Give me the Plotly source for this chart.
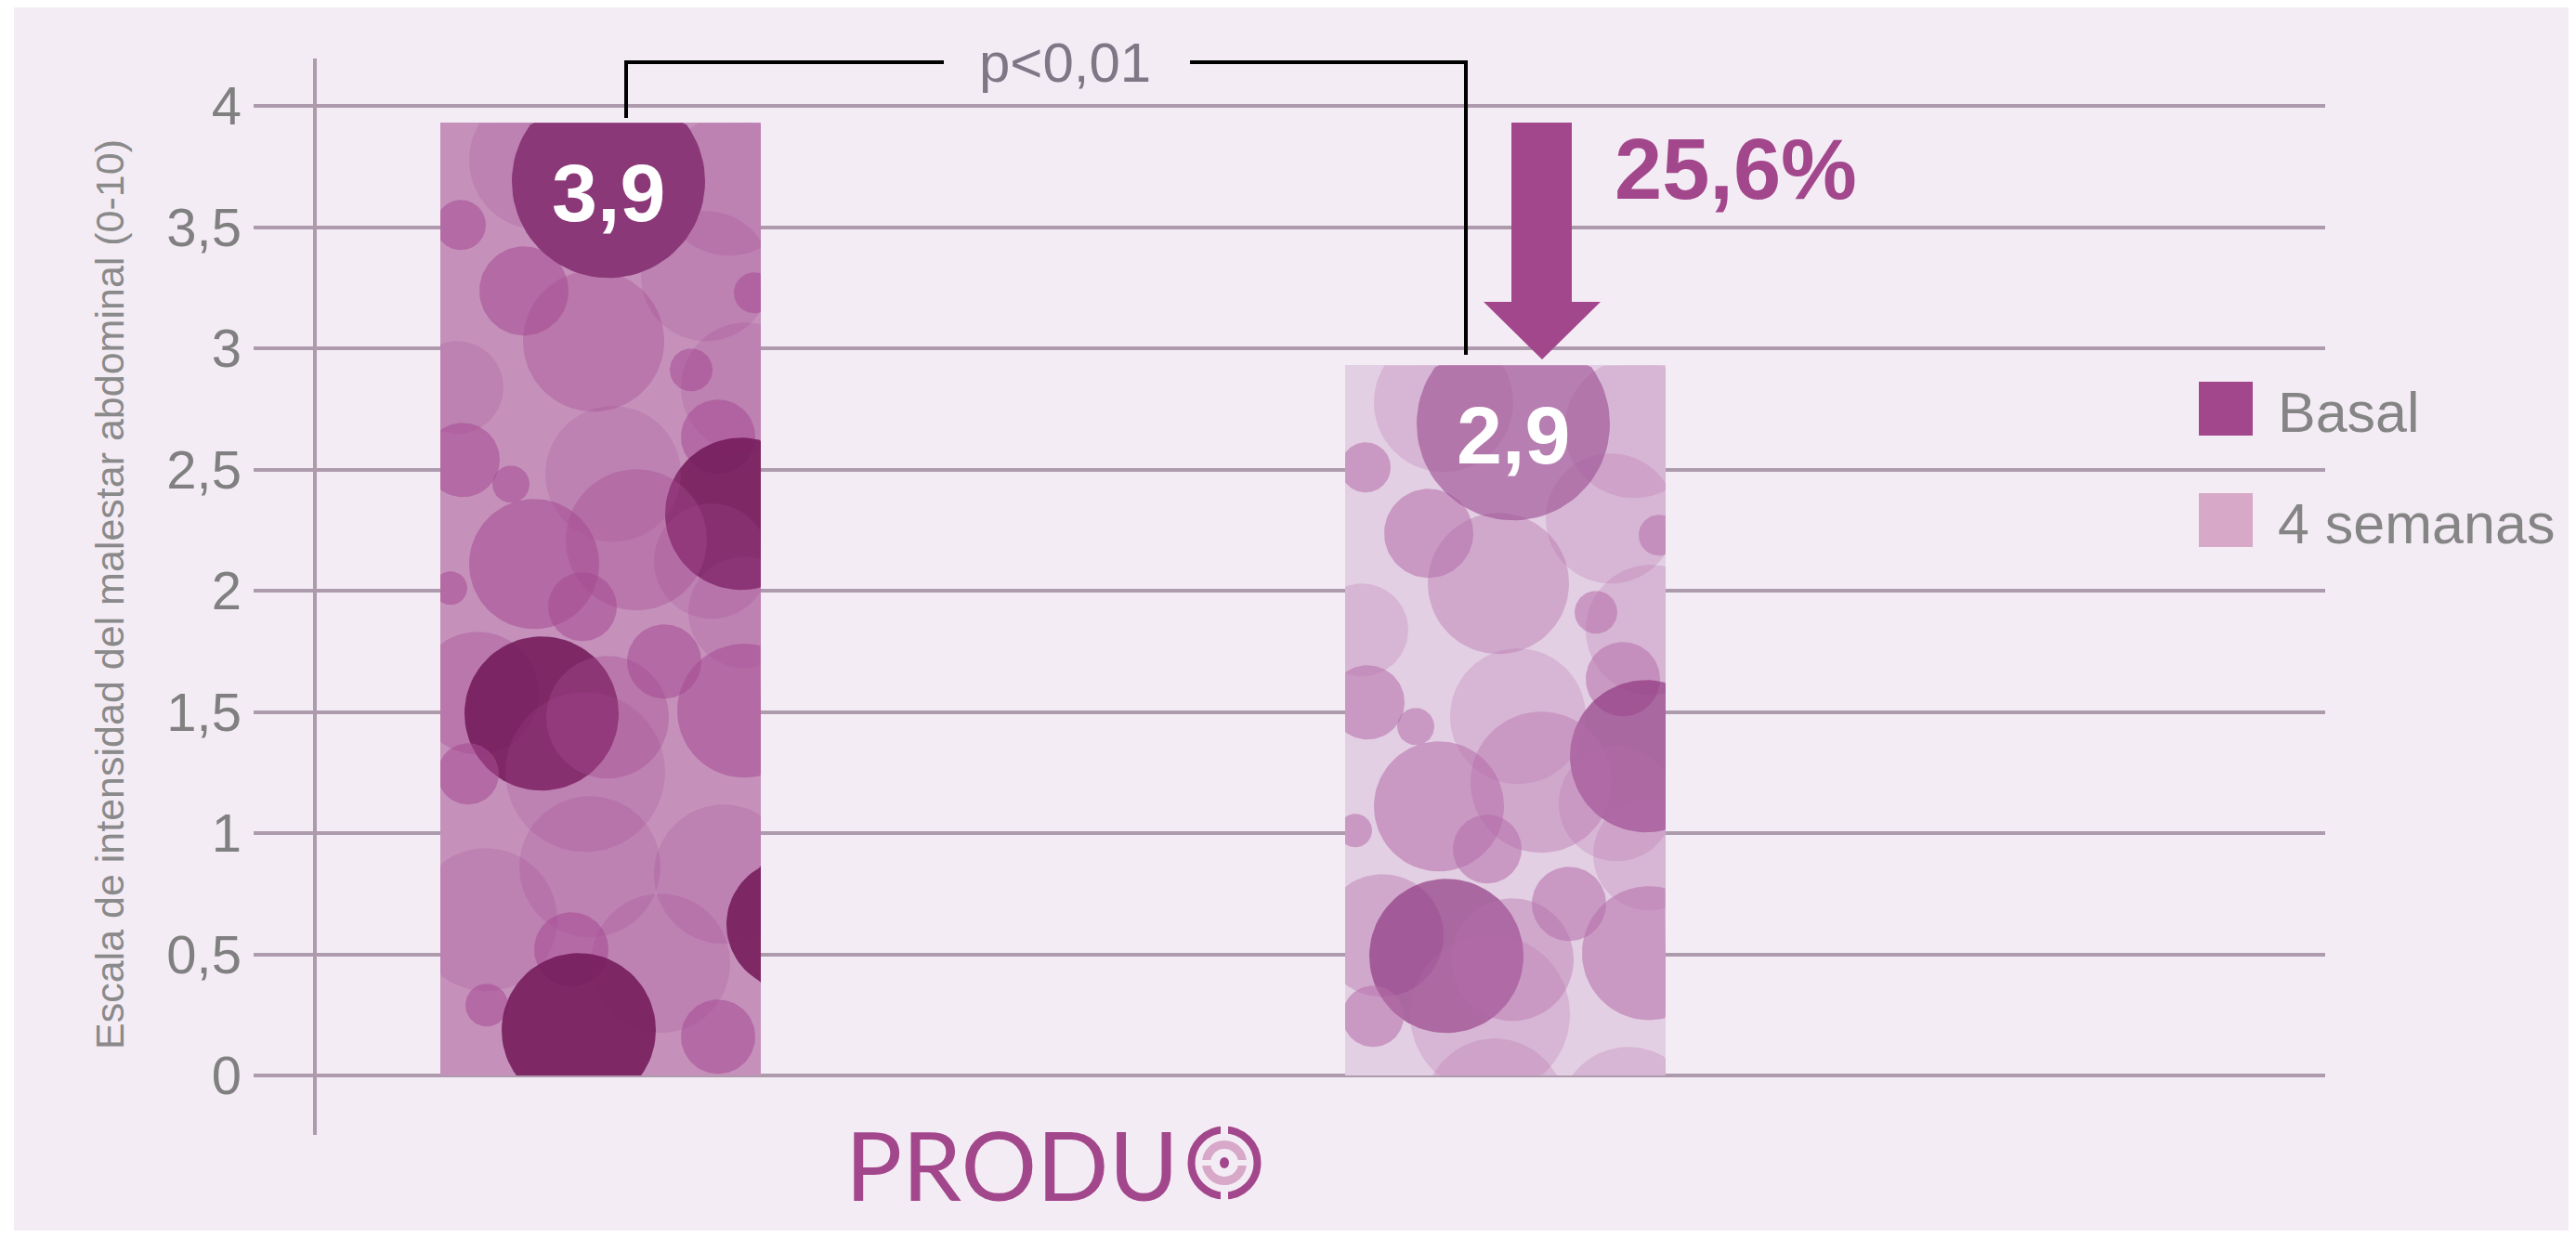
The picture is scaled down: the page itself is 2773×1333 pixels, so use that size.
import numpy as np
import plotly.graph_objects as go

# ---------------- data ----------------
categories = ["Basal", "4 semanas"]
values = [3.93, 2.93]
value_labels = ["3,9", "2,9"]
reduction_label = "25,6%"
p_label = "p<0,01"
y_title = "Escala de intensidad del malestar abdominal (0-10)"
tick_vals = [0, 0.5, 1, 1.5, 2, 2.5, 3, 3.5, 4]
tick_text = ["0", "0,5", "1", "1,5", "2", "2,5", "3", "3,5", "4"]
logo_text = "PRODU"

# ---------------- style / layout constants ----------------
W, H = 2765, 1317
OFF = 8                       # page offset of the figure (body margin)
ML, MR, MT, MB = 265, 270, 28, 89
PW, PH = W - ML - MR, H - MT - MB
PXU, PYU = 974.0, 261.0       # pixels per x unit / y unit
XC0 = 638.5                   # figure px of first category
Y0 = 1150.0                   # figure px of y = 0
XMIN = -(XC0 - ML) / PXU
XMAX = XMIN + PW / PXU
YMAX = (Y0 - MT) / PYU
YMIN = YMAX - PH / PYU
BARW = 345 / PXU

BG = "#F4ECF5"
GRID = "#AD9BAD"
PURPLE = "#A3478C"
LIGHT = "#D7A8C8"
FONT = "Liberation Sans, Arial, Helvetica, sans-serif"

schemes = [
    {"base": "#C591BB", "f": "rgba(165,75,145,0.22)", "h": "rgba(165,75,145,0.38)",
     "m": "rgba(165,75,145,0.55)", "d": "rgba(115,25,90,0.87)", "label": "#8A3878"},
    {"base": "#E3CFE3", "f": "rgba(180,110,170,0.26)", "h": "rgba(180,110,170,0.4)",
     "m": "rgba(180,110,170,0.55)", "d": "rgba(140,50,125,0.66)", "label": "rgba(160,85,150,0.66)"},
]

# decorative bubble texture: (offset from bar left px, offset from bar top px, radius px, tone)
texture = [
    (106, 40, 75, "f"), (311, 68, 75, "f"), (22, 110, 27, "m"), (90, 181, 48, "m"),
    (165, 235, 76, "h"), (286, 165, 70, "f"), (338, 183, 22, "m"), (270, 266, 23, "m"),
    (18, 285, 50, "f"), (329, 285, 70, "f"), (299, 338, 40, "m"), (324, 421, 82, "d"),
    (24, 363, 40, "m"), (76, 389, 20, "m"), (186, 378, 73, "f"), (211, 449, 76, "h"),
    (101, 475, 70, "m"), (292, 472, 62, "f"), (11, 501, 18, "m"), (153, 521, 37, "m"),
    (327, 527, 60, "f"), (241, 580, 40, "m"), (40, 614, 66, "h"), (109, 636, 83, "d"),
    (180, 640, 66, "h"), (327, 633, 72, "m"), (30, 701, 33, "m"), (156, 699, 86, "f"),
    (161, 801, 76, "f"), (49, 858, 77, "f"), (305, 809, 75, "f"), (141, 890, 40, "m"),
    (237, 905, 75, "f"), (378, 863, 70, "d"), (50, 950, 23, "m"), (149, 977, 83, "d"),
    (299, 984, 40, "m"),
]
LABEL_CIRCLE = (181, 63, 104)


def PX(page_x):
    return (page_x - OFF - ML) / PW


def PY(page_y):
    return 1 - (page_y - OFF - MT) / PH


xs = list(range(len(categories)))

fig = go.Figure()
fig.add_trace(go.Bar(
    x=xs, y=values, width=BARW,
    marker=dict(color=[s["base"] for s in schemes], line=dict(width=0)),
    hoverinfo="skip", showlegend=False,
))

t = np.linspace(0, 2 * np.pi, 91)


def bubble(xc, v, ox, oy, r, color):
    left, right = xc - BARW / 2, xc + BARW / 2
    if oy - r > v * PYU:
        return
    cx = left + ox / PXU
    cy = v - oy / PYU
    px = np.clip(cx + r * np.cos(t) / PXU, left, right)
    py = np.clip(cy + r * np.sin(t) / PYU, 0, v)
    fig.add_trace(go.Scatter(
        x=px, y=py, mode="lines", fill="toself", fillcolor=color,
        line=dict(width=0, color="rgba(0,0,0,0)"),
        hoverinfo="skip", showlegend=False,
    ))


for xc, v, sc in zip(xs, values, schemes):
    for ox, oy, r, tone in texture:
        bubble(xc, v, ox, oy, r, sc[tone])
    bubble(xc, v, LABEL_CIRCLE[0], LABEL_CIRCLE[1], LABEL_CIRCLE[2], sc["label"])

annotations = []
for xc, v, lab in zip(xs, values, value_labels):
    annotations.append(dict(
        x=xc, y=v, xref="x", yref="y", text=lab, showarrow=False,
        xshift=LABEL_CIRCLE[0] - 172.5, yshift=-(LABEL_CIRCLE[1] + 12),
        font=dict(family=FONT, size=88, color="white", weight="bold"),
        xanchor="center", yanchor="middle",
    ))

# y title
annotations.append(dict(
    x=PX(118), y=PY(640), xref="paper", yref="paper", text=y_title, showarrow=False,
    textangle=-90, xanchor="center", yanchor="middle",
    font=dict(family=FONT, size=43, color="#8A8A8A"),
))
# p value
annotations.append(dict(
    x=PX(1146), y=PY(68), xref="paper", yref="paper", text=p_label, showarrow=False,
    xanchor="center", yanchor="middle",
    font=dict(family=FONT, size=60, color="#7E7886"),
))
# reduction
annotations.append(dict(
    x=PX(1736), y=PY(182), xref="paper", yref="paper", text=reduction_label, showarrow=False,
    xanchor="left", yanchor="middle",
    font=dict(family=FONT, size=92, color=PURPLE, weight="bold"),
))
# legend texts
for name, yc in zip(categories, [444, 564]):
    annotations.append(dict(
        x=PX(2450), y=PY(yc), xref="paper", yref="paper", text=name, showarrow=False,
        xanchor="left", yanchor="middle",
        font=dict(family=FONT, size=61, color="#858585"),
    ))
# logo
annotations.append(dict(
    x=PX(908), y=PY(1254), xref="paper", yref="paper", text=logo_text, showarrow=False,
    xanchor="left", yanchor="middle",
    font=dict(family="Lato, Noto Sans, sans-serif", size=102, color=PURPLE, weight=400),
))

shapes = []
# white strip at left edge
shapes.append(dict(type="rect", xref="paper", yref="paper", x0=PX(0), x1=PX(15), y0=PY(-20),
                   y1=PY(1400), fillcolor="white", line=dict(width=0), layer="below"))
# y axis line
shapes.append(dict(type="line", xref="paper", yref="paper", x0=PX(339), x1=PX(339),
                   y0=PY(63), y1=PY(1222), line=dict(color=GRID, width=4), layer="below"))
# bracket
shapes.append(dict(type="path", xref="paper", yref="paper",
                   path=f"M {PX(674)},{PY(127)} L {PX(674)},{PY(67)} L {PX(1016)},{PY(67)}",
                   line=dict(color="black", width=4)))
shapes.append(dict(type="path", xref="paper", yref="paper",
                   path=f"M {PX(1281)},{PY(67)} L {PX(1578)},{PY(67)} L {PX(1578)},{PY(382)}",
                   line=dict(color="black", width=4)))
# arrow
pts = [(1627, 132), (1692, 132), (1692, 325), (1723, 325), (1660, 387), (1597, 325), (1627, 325)]
path = "M " + " L ".join(f"{PX(a)},{PY(b)}" for a, b in pts) + " Z"
shapes.append(dict(type="path", xref="paper", yref="paper", path=path,
                   fillcolor=PURPLE, line=dict(width=0)))
# legend squares
for col, (y0, y1) in zip([PURPLE, LIGHT], [(411, 469), (531, 589)]):
    shapes.append(dict(type="rect", xref="paper", yref="paper", x0=PX(2367), x1=PX(2425),
                       y0=PY(y0), y1=PY(y1), fillcolor=col, line=dict(width=0)))
# logo symbol
cx, cy = 1318, 1252
shapes.append(dict(type="circle", xref="paper", yref="paper", x0=PX(cx - 35.5), x1=PX(cx + 35.5),
                   y0=PY(cy - 35.5), y1=PY(cy + 35.5), line=dict(color=PURPLE, width=8)))
shapes.append(dict(type="circle", xref="paper", yref="paper", x0=PX(cx - 19.5), x1=PX(cx + 19.5),
                   y0=PY(cy - 19.5), y1=PY(cy + 19.5), line=dict(color=LIGHT, width=9)))
for (a, b, c, d) in [(cx - 4, cx + 4, cy - 44, cy - 28), (cx - 4, cx + 4, cy + 28, cy + 44),
                     (cx - 30, cx - 12, cy - 3, cy + 3), (cx + 12, cx + 30, cy - 3, cy + 3)]:
    shapes.append(dict(type="rect", xref="paper", yref="paper", x0=PX(a), x1=PX(b),
                       y0=PY(c), y1=PY(d), fillcolor=BG, line=dict(width=0)))
shapes.append(dict(type="circle", xref="paper", yref="paper", x0=PX(cx - 5), x1=PX(cx + 5),
                   y0=PY(cy - 6), y1=PY(cy + 6), fillcolor=PURPLE, line=dict(width=0)))

fig.update_layout(
    width=W, height=H,
    margin=dict(l=ML, r=MR, t=MT, b=MB, pad=0),
    paper_bgcolor=BG, plot_bgcolor=BG,
    showlegend=False,
    xaxis=dict(range=[XMIN, XMAX], visible=False, fixedrange=True),
    yaxis=dict(range=[YMIN, YMAX], tickvals=tick_vals, ticktext=tick_text,
               showgrid=True, gridcolor=GRID, gridwidth=4, zeroline=False, showline=False,
               ticks="", ticklabelstandoff=12, automargin=False, fixedrange=True,
               tickfont=dict(family=FONT, size=58, color="#808080")),
    annotations=annotations,
    shapes=shapes,
    bargap=0,
)

fig.write_html("out.html")
